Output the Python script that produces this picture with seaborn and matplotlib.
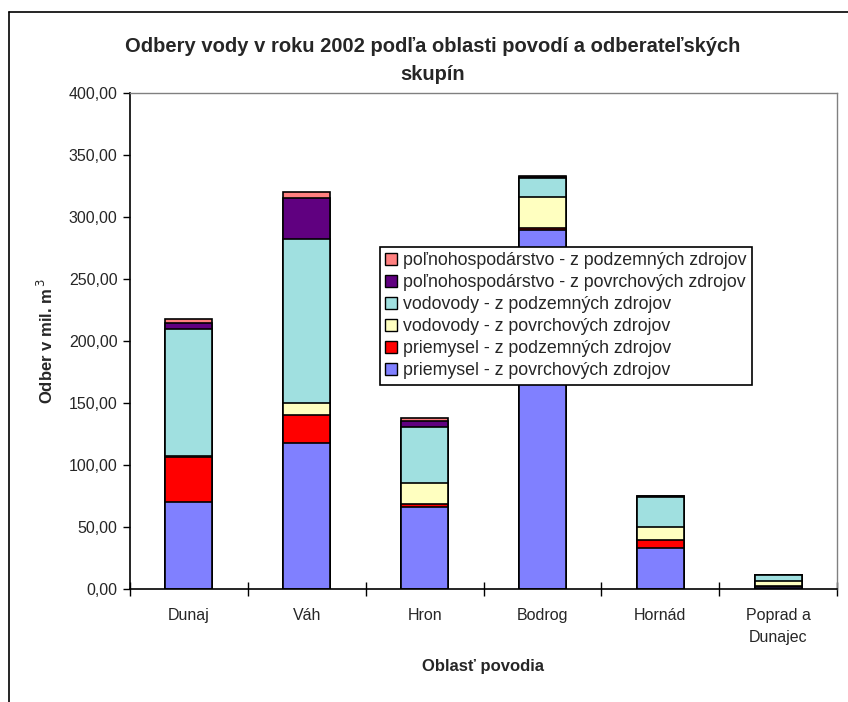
import matplotlib
matplotlib.use("Agg")
import matplotlib.pyplot as plt
import matplotlib.ticker as mticker
from matplotlib.lines import Line2D
from matplotlib.patches import Patch
import numpy as np
import pandas as pd
import seaborn as sns

# Water withdrawals 2002 by river basin (mil. m3)
oblasti = ["Dunaj", "Váh", "Hron", "Bodrog", "Hornád", "Poprad a\nDunajec"]
priemysel_povrch = [70.0, 117.5, 65.6, 289.5, 33.1, 1.0]
priemysel_podzem = [36.3, 22.3, 2.7, 1.5, 6.4, 1.5]
vodovody_povrch = [0.5, 9.7, 16.8, 25.0, 10.0, 3.5]
vodovody_podzem = [102.6, 132.5, 45.1, 15.0, 24.5, 4.8]
polnoh_povrch = [4.9, 32.8, 4.9, 1.0, 0.5, 0.3]
polnoh_podzem = [3.0, 4.9, 2.7, 0.8, 0.3, 0.1]

serie = [
    ("priemysel - z povrchových zdrojov", priemysel_povrch, "#8080FF"),
    ("priemysel - z podzemných zdrojov", priemysel_podzem, "#FF0000"),
    ("vodovody - z povrchových zdrojov", vodovody_povrch, "#FFFFC0"),
    ("vodovody - z podzemných zdrojov", vodovody_podzem, "#A0E0E0"),
    ("poľnohospodárstvo - z povrchových zdrojov", polnoh_povrch, "#600080"),
    ("poľnohospodárstvo - z podzemných zdrojov", polnoh_podzem, "#FF8080"),
]

sns.set_style("white")
regular = ["Liberation Sans", "DejaVu Sans"]
plt.rcParams["font.family"] = regular

W, H = 848, 702
fig = plt.figure(figsize=(W / 100, H / 100), dpi=100)
ax = fig.add_axes([130 / W, 1 - 588.7 / H, 707 / W, 496 / H])

# stacked bars: draw cumulative totals from the top layer down
cum = np.cumsum(np.array([s[1] for s in serie]), axis=0)
for i in range(len(serie) - 1, -1, -1):
    df = pd.DataFrame({"oblast": oblasti, "hodnota": cum[i]})
    sns.barplot(data=df, x="oblast", y="hodnota", color=serie[i][2],
                saturation=1, width=0.4, edgecolor="black", linewidth=1.2,
                ax=ax, errorbar=None)

ax.set_xlim(-0.5, len(oblasti) - 0.5)
ax.set_ylim(0, 400)
ax.set_yticks(np.arange(0, 401, 50))
ax.yaxis.set_major_formatter(mticker.FuncFormatter(lambda v, p: f"{v:.2f}".replace(".", ",")))
ax.tick_params(axis="y", direction="out", length=5, width=1, color="black",
               left=True, labelsize=11.5, pad=4)

# category boundaries carry the tick marks, labels sit at the bar centres
ax.set_xticks(np.arange(-0.5, len(oblasti), 1.0))
ax.set_xticklabels([])
ax.set_xticks(np.arange(len(oblasti)), minor=True)
ax.set_xticklabels(oblasti, minor=True, fontsize=11.5, linespacing=1.6)
ax.tick_params(axis="x", which="major", direction="inout", length=10, width=1,
               color="black", bottom=True)
ax.tick_params(axis="x", which="minor", length=0, pad=14)

ax.set_xlabel("Oblasť povodia", fontsize=12, fontweight="bold", labelpad=10)
ax.set_ylabel("Odber v mil. m$^{\\,3}$", fontsize=12, fontweight="bold", labelpad=9)

for side in ("left", "bottom"):
    ax.spines[side].set_color("black")
    ax.spines[side].set_linewidth(1.2)
for side in ("top", "right"):
    ax.spines[side].set_color("#808080")
    ax.spines[side].set_linewidth(1.0)

fig.text(433 / W, 1 - 61 / H, "Odbery vody v roku 2002 podľa oblasti povodí a odberateľských\nskupín",
         ha="center", va="center", fontsize=14.5, fontweight="bold", linespacing=1.6)

handles = [Patch(facecolor=c, edgecolor="black", linewidth=1, label=l) for l, v, c in serie][::-1]
leg = ax.legend(handles=handles, loc="upper left", bbox_to_anchor=(0.3536, 0.689),
                frameon=True, fancybox=False, edgecolor="black", framealpha=1,
                prop={"family": regular, "size": 12.8}, handlelength=0.65,
                handleheight=0.65, handletextpad=0.35, labelspacing=0.28,
                borderpad=0.3, borderaxespad=0)
leg.get_frame().set_linewidth(1.2)

# outer chart frame
fig.add_artist(Line2D([9 / W, 9 / W], [0, 1 - 12 / H], color="black", lw=1.2))
fig.add_artist(Line2D([9 / W, 1], [1 - 12 / H, 1 - 12 / H], color="black", lw=1.2))

fig.savefig("out.png", dpi=100)
